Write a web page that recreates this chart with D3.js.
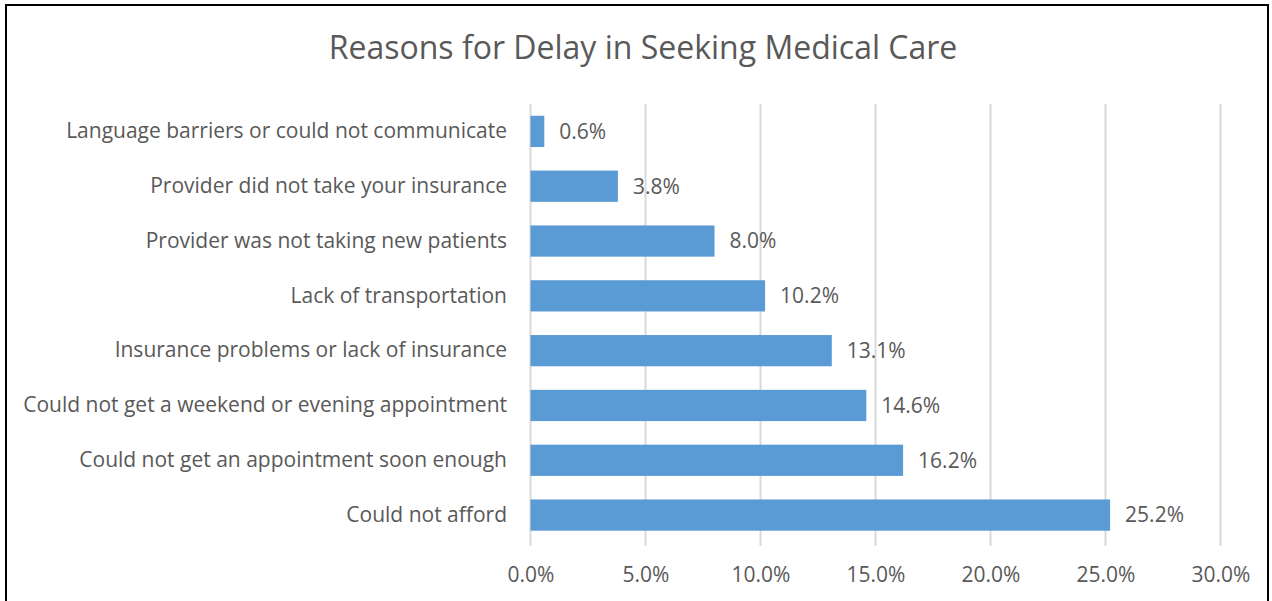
<!DOCTYPE html>
<html><head><meta charset="utf-8">
<script src="https://cdn.jsdelivr.net/npm/d3@7"></script>
<style>body{margin:0;background:#fff}svg{display:block}text{font-family:"Open Sans",sans-serif;fill:#595959}</style>
</head><body><svg id="c" width="1272" height="601"></svg>
<script>
const categories = ["Language barriers or could not communicate","Provider did not take your insurance","Provider was not taking new patients","Lack of transportation","Insurance problems or lack of insurance","Could not get a weekend or evening appointment","Could not get an appointment soon enough","Could not afford"];
const values = [0.6, 3.8, 8.0, 10.2, 13.1, 14.6, 16.2, 25.2];
const tickValues = [0, 5, 10, 15, 20, 25, 30];
const title = "Reasons for Delay in Seeking Medical Care";

const svg = d3.select("#c");
svg.append("rect").attr("x",6).attr("y",5).attr("width",1262).attr("height",620).attr("fill","none").attr("stroke","#000").attr("stroke-width",2);
svg.append("text").attr("x",643).attr("y",59).attr("text-anchor","middle").style("font-size","32px").text(title);

const x = d3.scaleLinear().domain([0,30]).range([530.5,1220.5]);
const y = d3.scaleBand().domain(categories).range([104,542.5]).paddingInner(0.43).paddingOuter(0.215);

const grid = svg.append("g");
grid.selectAll("line").data(tickValues).join("line")
  .attr("x1",d=>x(d)).attr("x2",d=>x(d)).attr("y1",104).attr("y2",546)
  .attr("stroke","#d9d9d9").attr("stroke-width",2);

const xAxis = svg.append("g").attr("transform","translate(0,575)")
  .call(d3.axisBottom(x).tickValues(tickValues).tickSize(0).tickPadding(0).tickFormat(d=>d.toFixed(1)+"%"));
xAxis.select(".domain").remove();
xAxis.selectAll("text").attr("dy","0.35em").style("font-size","21px").style("fill","#595959");

svg.append("g").selectAll("rect").data(values).join("rect")
  .attr("x",x(0)).attr("y",(d,i)=>y(categories[i]))
  .attr("width",d=>x(d)-x(0)).attr("height",y.bandwidth()).attr("fill","#5b9bd5");

const yAxis = svg.append("g").attr("transform","translate(507,0)")
  .call(d3.axisLeft(y).tickSize(0).tickPadding(0));
yAxis.select(".domain").remove();
yAxis.selectAll("text").style("font-size","21px").style("fill","#595959");

svg.append("g").selectAll("text").data(values).join("text")
  .attr("x",d=>x(d)+15).attr("y",(d,i)=>y(categories[i])+y.bandwidth()/2).attr("dy","0.35em")
  .style("font-size","21px").text(d=>d.toFixed(1)+"%");
</script></body></html>
